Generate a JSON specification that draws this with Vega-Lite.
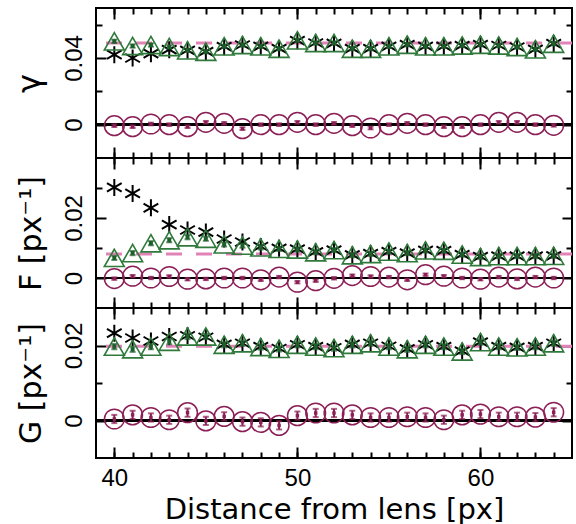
{
"$schema": "https://vega.github.io/schema/vega-lite/v6.json",
"padding": {"left": 12, "top": 6, "right": 0, "bottom": 0},
"spacing": 0,
"bounds": "flush",
"data": {"values": [
{"p":"g","x":40,"s":0.0420,"t":0.0500,"c":-0.0006,"te":0.001,"ce":0.0008,"tr":0.049},
{"p":"g","x":41,"s":0.0400,"t":0.0472,"c":-0.0012,"te":0.001,"ce":0.0008,"tr":0.049},
{"p":"g","x":42,"s":0.0426,"t":0.0478,"c":0.0004,"te":0.001,"ce":0.0008,"tr":0.049},
{"p":"g","x":43,"s":0.0450,"t":0.0466,"c":0.0,"te":0.001,"ce":0.0008,"tr":0.049},
{"p":"g","x":44,"s":0.0446,"t":0.0446,"c":-0.0012,"te":0.001,"ce":0.0008,"tr":0.049},
{"p":"g","x":45,"s":0.0438,"t":0.0438,"c":0.0014,"te":0.001,"ce":0.0008,"tr":0.049},
{"p":"g","x":46,"s":0.0468,"t":0.0470,"c":0.0008,"te":0.001,"ce":0.0008,"tr":0.049},
{"p":"g","x":47,"s":0.0478,"t":0.0478,"c":-0.0024,"te":0.001,"ce":0.0008,"tr":0.049},
{"p":"g","x":48,"s":0.0470,"t":0.0470,"c":0.0,"te":0.001,"ce":0.0008,"tr":0.049},
{"p":"g","x":49,"s":0.0456,"t":0.0456,"c":0.0,"te":0.001,"ce":0.0008,"tr":0.049},
{"p":"g","x":50,"s":0.0504,"t":0.0506,"c":0.0014,"te":0.001,"ce":0.0008,"tr":0.049},
{"p":"g","x":51,"s":0.0490,"t":0.0490,"c":0.0,"te":0.001,"ce":0.0008,"tr":0.049},
{"p":"g","x":52,"s":0.0488,"t":0.0490,"c":0.0008,"te":0.001,"ce":0.0008,"tr":0.049},
{"p":"g","x":53,"s":0.0456,"t":0.0456,"c":-0.0006,"te":0.001,"ce":0.0008,"tr":0.049},
{"p":"g","x":54,"s":0.0456,"t":0.0456,"c":-0.0020,"te":0.001,"ce":0.0008,"tr":0.049},
{"p":"g","x":55,"s":0.0470,"t":0.0470,"c":0.0,"te":0.001,"ce":0.0008,"tr":0.049},
{"p":"g","x":56,"s":0.0480,"t":0.0480,"c":0.0008,"te":0.001,"ce":0.0008,"tr":0.049},
{"p":"g","x":57,"s":0.0470,"t":0.0470,"c":0.0,"te":0.001,"ce":0.0008,"tr":0.049},
{"p":"g","x":58,"s":0.0470,"t":0.0470,"c":-0.0012,"te":0.001,"ce":0.0008,"tr":0.049},
{"p":"g","x":59,"s":0.0474,"t":0.0475,"c":-0.0012,"te":0.001,"ce":0.0008,"tr":0.049},
{"p":"g","x":60,"s":0.0480,"t":0.0480,"c":0.0,"te":0.001,"ce":0.0008,"tr":0.049},
{"p":"g","x":61,"s":0.0475,"t":0.0475,"c":0.0014,"te":0.001,"ce":0.0008,"tr":0.049},
{"p":"g","x":62,"s":0.0466,"t":0.0466,"c":0.0014,"te":0.001,"ce":0.0008,"tr":0.049},
{"p":"g","x":63,"s":0.0452,"t":0.0452,"c":0.0,"te":0.001,"ce":0.0008,"tr":0.049},
{"p":"g","x":64,"s":0.0486,"t":0.0486,"c":-0.0004,"te":0.001,"ce":0.0008,"tr":0.049},
{"p":"F","x":40,"s":0.0302,"t":0.0067,"c":-0.0002,"te":0.0007,"ce":0.0004,"tr":0.008},
{"p":"F","x":41,"s":0.0282,"t":0.0083,"c":0.0006,"te":0.0007,"ce":0.0004,"tr":0.008},
{"p":"F","x":42,"s":0.0234,"t":0.0116,"c":0.0,"te":0.0007,"ce":0.0004,"tr":0.008},
{"p":"F","x":43,"s":0.0178,"t":0.0126,"c":0.0005,"te":0.0007,"ce":0.0004,"tr":0.008},
{"p":"F","x":44,"s":0.0160,"t":0.0136,"c":-0.0004,"te":0.0007,"ce":0.0004,"tr":0.008},
{"p":"F","x":45,"s":0.0153,"t":0.0131,"c":-0.0003,"te":0.0007,"ce":0.0004,"tr":0.008},
{"p":"F","x":46,"s":0.0130,"t":0.0112,"c":0.0,"te":0.0007,"ce":0.0004,"tr":0.008},
{"p":"F","x":47,"s":0.0120,"t":0.0108,"c":0.0,"te":0.0007,"ce":0.0004,"tr":0.008},
{"p":"F","x":48,"s":0.0105,"t":0.0102,"c":-0.0006,"te":0.0007,"ce":0.0004,"tr":0.008},
{"p":"F","x":49,"s":0.0099,"t":0.0097,"c":0.0003,"te":0.0007,"ce":0.0004,"tr":0.008},
{"p":"F","x":50,"s":0.0096,"t":0.0095,"c":-0.0014,"te":0.0007,"ce":0.0004,"tr":0.008},
{"p":"F","x":51,"s":0.0087,"t":0.0086,"c":-0.0009,"te":0.0007,"ce":0.0004,"tr":0.008},
{"p":"F","x":52,"s":0.0093,"t":0.0093,"c":-0.0001,"te":0.0007,"ce":0.0004,"tr":0.008},
{"p":"F","x":53,"s":0.0077,"t":0.0076,"c":0.0008,"te":0.0007,"ce":0.0004,"tr":0.008},
{"p":"F","x":54,"s":0.0081,"t":0.0080,"c":0.0005,"te":0.0007,"ce":0.0004,"tr":0.008},
{"p":"F","x":55,"s":0.0088,"t":0.0088,"c":0.0003,"te":0.0007,"ce":0.0004,"tr":0.008},
{"p":"F","x":56,"s":0.0083,"t":0.0083,"c":-0.0006,"te":0.0007,"ce":0.0004,"tr":0.008},
{"p":"F","x":57,"s":0.0092,"t":0.0092,"c":0.0011,"te":0.0007,"ce":0.0004,"tr":0.008},
{"p":"F","x":58,"s":0.0091,"t":0.0091,"c":0.0006,"te":0.0007,"ce":0.0004,"tr":0.008},
{"p":"F","x":59,"s":0.0078,"t":0.0078,"c":0.0,"te":0.0007,"ce":0.0004,"tr":0.008},
{"p":"F","x":60,"s":0.0071,"t":0.0070,"c":-0.0004,"te":0.0007,"ce":0.0004,"tr":0.008},
{"p":"F","x":61,"s":0.0073,"t":0.0073,"c":0.0003,"te":0.0007,"ce":0.0004,"tr":0.008},
{"p":"F","x":62,"s":0.0073,"t":0.0073,"c":-0.0003,"te":0.0007,"ce":0.0004,"tr":0.008},
{"p":"F","x":63,"s":0.0073,"t":0.0073,"c":0.0003,"te":0.0007,"ce":0.0004,"tr":0.008},
{"p":"F","x":64,"s":0.0074,"t":0.0074,"c":0.0,"te":0.0007,"ce":0.0004,"tr":0.008},
{"p":"G","x":40,"s":0.0233,"t":0.0197,"c":0.0004,"te":0.0007,"ce":0.0011,"tr":0.0198},
{"p":"G","x":41,"s":0.0220,"t":0.0190,"c":0.0015,"te":0.0007,"ce":0.0011,"tr":0.0198},
{"p":"G","x":42,"s":0.0212,"t":0.0197,"c":0.0008,"te":0.0007,"ce":0.0011,"tr":0.0198},
{"p":"G","x":43,"s":0.0224,"t":0.0210,"c":0.0002,"te":0.0007,"ce":0.0011,"tr":0.0198},
{"p":"G","x":44,"s":0.0226,"t":0.0224,"c":0.0021,"te":0.0007,"ce":0.0011,"tr":0.0198},
{"p":"G","x":45,"s":0.0222,"t":0.0224,"c":-0.0001,"te":0.0007,"ce":0.0011,"tr":0.0198},
{"p":"G","x":46,"s":0.0203,"t":0.0202,"c":0.0011,"te":0.0007,"ce":0.0011,"tr":0.0198},
{"p":"G","x":47,"s":0.0206,"t":0.0206,"c":-0.0003,"te":0.0007,"ce":0.0011,"tr":0.0198},
{"p":"G","x":48,"s":0.0197,"t":0.0196,"c":-0.0005,"te":0.0007,"ce":0.0011,"tr":0.0198},
{"p":"G","x":49,"s":0.0192,"t":0.0191,"c":-0.0013,"te":0.0007,"ce":0.0011,"tr":0.0198},
{"p":"G","x":50,"s":0.0202,"t":0.0202,"c":0.0013,"te":0.0007,"ce":0.0011,"tr":0.0198},
{"p":"G","x":51,"s":0.0197,"t":0.0197,"c":0.0020,"te":0.0007,"ce":0.0011,"tr":0.0198},
{"p":"G","x":52,"s":0.0194,"t":0.0193,"c":0.0020,"te":0.0007,"ce":0.0011,"tr":0.0198},
{"p":"G","x":53,"s":0.0203,"t":0.0202,"c":0.0015,"te":0.0007,"ce":0.0011,"tr":0.0198},
{"p":"G","x":54,"s":0.0206,"t":0.0206,"c":0.0008,"te":0.0007,"ce":0.0011,"tr":0.0198},
{"p":"G","x":55,"s":0.0198,"t":0.0197,"c":0.0008,"te":0.0007,"ce":0.0011,"tr":0.0198},
{"p":"G","x":56,"s":0.0191,"t":0.0190,"c":0.0010,"te":0.0007,"ce":0.0011,"tr":0.0198},
{"p":"G","x":57,"s":0.0202,"t":0.0202,"c":0.0008,"te":0.0007,"ce":0.0011,"tr":0.0198},
{"p":"G","x":58,"s":0.0197,"t":0.0197,"c":0.0002,"te":0.0007,"ce":0.0011,"tr":0.0198},
{"p":"G","x":59,"s":0.0185,"t":0.0184,"c":0.0015,"te":0.0007,"ce":0.0011,"tr":0.0198},
{"p":"G","x":60,"s":0.0209,"t":0.0209,"c":0.0017,"te":0.0007,"ce":0.0011,"tr":0.0198},
{"p":"G","x":61,"s":0.0197,"t":0.0197,"c":0.0010,"te":0.0007,"ce":0.0011,"tr":0.0198},
{"p":"G","x":62,"s":0.0195,"t":0.0195,"c":0.0010,"te":0.0007,"ce":0.0011,"tr":0.0198},
{"p":"G","x":63,"s":0.0197,"t":0.0197,"c":0.0009,"te":0.0007,"ce":0.0011,"tr":0.0198},
{"p":"G","x":64,"s":0.0206,"t":0.0206,"c":0.0022,"te":0.0007,"ce":0.0011,"tr":0.0198}
]},
"vconcat": [
{
 "width": 476, "height": 150,
 "transform": [{"filter": "datum.p === 'g'"}],
 "layer": [
  {"mark": {"type": "rule", "color": "#e283b8", "strokeWidth": 3, "strokeDash": [16, 14]},
   "encoding": {"y": {"aggregate": "mean", "field": "tr", "type": "quantitative", "scale": {"domain": [-0.02, 0.07], "nice": false, "zero": false}, "axis": null}}},
  {"mark": {"type": "rule", "color": "black", "strokeWidth": 2},
   "encoding": {"y": {"datum": 0, "type": "quantitative", "axis": null}}},
  {"mark": {"type": "point", "shape": "circle", "size": 390, "filled": false, "color": "#8b1f56", "strokeWidth": 1.5, "opacity": 1},
   "encoding": {
    "x": {"field": "x", "type": "quantitative", "scale": {"domain": [39, 65], "nice": false, "zero": false}, "axis": {"orient": "bottom", "values": [40,41,42,43,44,45,46,47,48,49,50,51,52,53,54,55,56,57,58,59,60,61,62,63,64], "tickSize": -6, "labels": false, "title": null}},
    "y": {"field": "c", "type": "quantitative", "scale": {"domain": [-0.02, 0.07], "nice": false, "zero": false}, "axis": {"orient": "left", "values": [0, 0.04], "format": "~g", "ticks": false, "labelAngle": -90, "labelPadding": 10, "labelFontSize": 24, "title": "γ", "titleFontSize": 32, "titlePadding": 16}}}},
  {"mark": {"type": "errorbar", "ticks": {"size": 6}, "thickness": 2, "color": "#8b1f56"},
   "encoding": {"x": {"field": "x", "type": "quantitative", "axis": null}, "y": {"field": "c", "type": "quantitative", "axis": null}, "yError": {"field": "ce"}}},
  {"mark": {"type": "point", "shape": "square", "size": 12, "filled": true, "color": "#8b1f56", "opacity": 1},
   "encoding": {"x": {"field": "x", "type": "quantitative", "axis": null}, "y": {"field": "c", "type": "quantitative", "axis": null}}},
  {"mark": {"type": "point", "shape": "M0,-1L0,1M-0.866,-0.5L0.866,0.5M-0.866,0.5L0.866,-0.5", "size": 289, "filled": false, "color": "black", "strokeWidth": 2, "opacity": 1},
   "encoding": {
    "x": {"field": "x", "type": "quantitative", "axis": {"orient": "bottom", "values": [40, 50, 60], "tickSize": -11, "labels": false, "title": null}},
    "y": {"field": "s", "type": "quantitative", "axis": {"orient": "left", "values": [0, 0.04], "tickSize": -10, "labels": false, "title": null}}}},
  {"mark": {"type": "point", "shape": "triangle-up", "size": 400, "filled": false, "color": "#2f7a3b", "strokeWidth": 1.6, "opacity": 1},
   "encoding": {
    "x": {"field": "x", "type": "quantitative", "axis": {"orient": "top", "values": [40,41,42,43,44,45,46,47,48,49,50,51,52,53,54,55,56,57,58,59,60,61,62,63,64], "tickSize": -6, "labels": false, "title": null}},
    "y": {"field": "t", "type": "quantitative", "axis": {"orient": "right", "values": [0, 0.04], "tickSize": -10, "labels": false, "title": null}}}},
  {"mark": {"type": "errorbar", "ticks": {"size": 6}, "thickness": 2, "color": "#1d5e2b"},
   "encoding": {"x": {"field": "x", "type": "quantitative", "axis": null}, "y": {"field": "t", "type": "quantitative", "axis": null}, "yError": {"field": "te"}}},
  {"mark": {"type": "point", "shape": "square", "size": 16, "filled": true, "color": "#1d5e2b", "opacity": 1},
   "encoding": {
    "x": {"field": "x", "type": "quantitative", "axis": {"orient": "top", "values": [40, 50, 60], "tickSize": -11, "labels": false, "title": null}},
    "y": {"field": "t", "type": "quantitative", "axis": {"orient": "right", "values": [0.02, 0.06], "tickSize": -6, "labels": false, "title": null}}}},
  {"mark": {"type": "point", "opacity": 0},
   "encoding": {
    "x": {"field": "x", "type": "quantitative", "axis": null},
    "y": {"field": "t", "type": "quantitative", "axis": {"orient": "left", "values": [0.02, 0.06], "tickSize": -6, "labels": false, "title": null}}}}
 ],
 "resolve": {"axis": {"x": "independent", "y": "independent"}}
},
{
 "width": 476, "height": 150,
 "transform": [{"filter": "datum.p === 'F'"}],
 "layer": [
  {"mark": {"type": "rule", "color": "#e283b8", "strokeWidth": 3, "strokeDash": [16, 14]},
   "encoding": {"y": {"aggregate": "mean", "field": "tr", "type": "quantitative", "scale": {"domain": [-0.01, 0.04], "nice": false, "zero": false}, "axis": null}}},
  {"mark": {"type": "rule", "color": "black", "strokeWidth": 2},
   "encoding": {"y": {"datum": 0, "type": "quantitative", "axis": null}}},
  {"mark": {"type": "point", "shape": "circle", "size": 390, "filled": false, "color": "#8b1f56", "strokeWidth": 1.5, "opacity": 1},
   "encoding": {
    "x": {"field": "x", "type": "quantitative", "scale": {"domain": [39, 65], "nice": false, "zero": false}, "axis": {"orient": "bottom", "values": [40,41,42,43,44,45,46,47,48,49,50,51,52,53,54,55,56,57,58,59,60,61,62,63,64], "tickSize": -6, "labels": false, "title": null}},
    "y": {"field": "c", "type": "quantitative", "scale": {"domain": [-0.01, 0.04], "nice": false, "zero": false}, "axis": {"orient": "left", "values": [0, 0.02], "format": "~g", "ticks": false, "labelAngle": -90, "labelPadding": 10, "labelFontSize": 24, "title": "F [px⁻¹]", "titleFontSize": 30, "titlePadding": 16}}}},
  {"mark": {"type": "errorbar", "ticks": {"size": 6}, "thickness": 2, "color": "#8b1f56"},
   "encoding": {"x": {"field": "x", "type": "quantitative", "axis": null}, "y": {"field": "c", "type": "quantitative", "axis": null}, "yError": {"field": "ce"}}},
  {"mark": {"type": "point", "shape": "square", "size": 12, "filled": true, "color": "#8b1f56", "opacity": 1},
   "encoding": {"x": {"field": "x", "type": "quantitative", "axis": null}, "y": {"field": "c", "type": "quantitative", "axis": null}}},
  {"mark": {"type": "point", "shape": "M0,-1L0,1M-0.866,-0.5L0.866,0.5M-0.866,0.5L0.866,-0.5", "size": 289, "filled": false, "color": "black", "strokeWidth": 2, "opacity": 1},
   "encoding": {
    "x": {"field": "x", "type": "quantitative", "axis": {"orient": "bottom", "values": [40, 50, 60], "tickSize": -11, "labels": false, "title": null}},
    "y": {"field": "s", "type": "quantitative", "axis": {"orient": "left", "values": [0, 0.02], "tickSize": -10, "labels": false, "title": null}}}},
  {"mark": {"type": "point", "shape": "triangle-up", "size": 400, "filled": false, "color": "#2f7a3b", "strokeWidth": 1.6, "opacity": 1},
   "encoding": {
    "x": {"field": "x", "type": "quantitative", "axis": {"orient": "top", "values": [40,41,42,43,44,45,46,47,48,49,50,51,52,53,54,55,56,57,58,59,60,61,62,63,64], "tickSize": -6, "labels": false, "title": null}},
    "y": {"field": "t", "type": "quantitative", "axis": {"orient": "right", "values": [0, 0.02], "tickSize": -10, "labels": false, "title": null}}}},
  {"mark": {"type": "errorbar", "ticks": {"size": 6}, "thickness": 2, "color": "#1d5e2b"},
   "encoding": {"x": {"field": "x", "type": "quantitative", "axis": null}, "y": {"field": "t", "type": "quantitative", "axis": null}, "yError": {"field": "te"}}},
  {"mark": {"type": "point", "shape": "square", "size": 16, "filled": true, "color": "#1d5e2b", "opacity": 1},
   "encoding": {
    "x": {"field": "x", "type": "quantitative", "axis": {"orient": "top", "values": [40, 50, 60], "tickSize": -11, "labels": false, "title": null}},
    "y": {"field": "t", "type": "quantitative", "axis": {"orient": "right", "values": [0.01, 0.03], "tickSize": -6, "labels": false, "title": null}}}},
  {"mark": {"type": "point", "opacity": 0},
   "encoding": {
    "x": {"field": "x", "type": "quantitative", "axis": null},
    "y": {"field": "t", "type": "quantitative", "axis": {"orient": "left", "values": [0.01, 0.03], "tickSize": -6, "labels": false, "title": null}}}}
 ],
 "resolve": {"axis": {"x": "independent", "y": "independent"}}
},
{
 "width": 476, "height": 150,
 "transform": [{"filter": "datum.p === 'G'"}],
 "layer": [
  {"mark": {"type": "rule", "color": "#e283b8", "strokeWidth": 3, "strokeDash": [16, 14]},
   "encoding": {"y": {"aggregate": "mean", "field": "tr", "type": "quantitative", "scale": {"domain": [-0.01, 0.03], "nice": false, "zero": false}, "axis": null}}},
  {"mark": {"type": "rule", "color": "black", "strokeWidth": 2},
   "encoding": {"y": {"datum": 0, "type": "quantitative", "axis": null}}},
  {"mark": {"type": "point", "shape": "circle", "size": 390, "filled": false, "color": "#8b1f56", "strokeWidth": 1.5, "opacity": 1},
   "encoding": {
    "x": {"field": "x", "type": "quantitative", "scale": {"domain": [39, 65], "nice": false, "zero": false}, "axis": {"orient": "bottom", "values": [40,41,42,43,44,45,46,47,48,49,50,51,52,53,54,55,56,57,58,59,60,61,62,63,64], "tickSize": -6, "labels": false, "title": null}},
    "y": {"field": "c", "type": "quantitative", "scale": {"domain": [-0.01, 0.03], "nice": false, "zero": false}, "axis": {"orient": "left", "values": [0, 0.02], "format": "~g", "ticks": false, "labelAngle": -90, "labelPadding": 10, "labelFontSize": 24, "title": "G [px⁻¹]", "titleFontSize": 30, "titlePadding": 16}}}},
  {"mark": {"type": "errorbar", "ticks": {"size": 6}, "thickness": 2, "color": "#8b1f56"},
   "encoding": {"x": {"field": "x", "type": "quantitative", "axis": null}, "y": {"field": "c", "type": "quantitative", "axis": null}, "yError": {"field": "ce"}}},
  {"mark": {"type": "point", "shape": "square", "size": 12, "filled": true, "color": "#8b1f56", "opacity": 1},
   "encoding": {"x": {"field": "x", "type": "quantitative", "axis": null}, "y": {"field": "c", "type": "quantitative", "axis": null}}},
  {"mark": {"type": "point", "shape": "M0,-1L0,1M-0.866,-0.5L0.866,0.5M-0.866,0.5L0.866,-0.5", "size": 289, "filled": false, "color": "black", "strokeWidth": 2, "opacity": 1},
   "encoding": {
    "x": {"field": "x", "type": "quantitative", "axis": {"orient": "bottom", "values": [40, 50, 60], "tickSize": -11, "labels": true, "labelPadding": 19, "labelFontSize": 24, "title": "Distance from lens [px]", "titleFontSize": 29, "titlePadding": 5}},
    "y": {"field": "s", "type": "quantitative", "axis": {"orient": "left", "values": [0, 0.02], "tickSize": -10, "labels": false, "title": null}}}},
  {"mark": {"type": "point", "shape": "triangle-up", "size": 400, "filled": false, "color": "#2f7a3b", "strokeWidth": 1.6, "opacity": 1},
   "encoding": {
    "x": {"field": "x", "type": "quantitative", "axis": {"orient": "top", "values": [40,41,42,43,44,45,46,47,48,49,50,51,52,53,54,55,56,57,58,59,60,61,62,63,64], "tickSize": -6, "labels": false, "title": null}},
    "y": {"field": "t", "type": "quantitative", "axis": {"orient": "right", "values": [0, 0.02], "tickSize": -10, "labels": false, "title": null}}}},
  {"mark": {"type": "errorbar", "ticks": {"size": 6}, "thickness": 2, "color": "#1d5e2b"},
   "encoding": {"x": {"field": "x", "type": "quantitative", "axis": null}, "y": {"field": "t", "type": "quantitative", "axis": null}, "yError": {"field": "te"}}},
  {"mark": {"type": "point", "shape": "square", "size": 16, "filled": true, "color": "#1d5e2b", "opacity": 1},
   "encoding": {
    "x": {"field": "x", "type": "quantitative", "axis": {"orient": "top", "values": [40, 50, 60], "tickSize": -11, "labels": false, "title": null}},
    "y": {"field": "t", "type": "quantitative", "axis": {"orient": "right", "values": [0.01], "tickSize": -6, "labels": false, "title": null}}}},
  {"mark": {"type": "point", "opacity": 0},
   "encoding": {
    "x": {"field": "x", "type": "quantitative", "axis": null},
    "y": {"field": "t", "type": "quantitative", "axis": {"orient": "left", "values": [0.01], "tickSize": -6, "labels": false, "title": null}}}}
 ],
 "resolve": {"axis": {"x": "independent", "y": "independent"}}
}
],
"config": {
 "view": {"stroke": "black", "strokeWidth": 2},
 "axis": {"domain": false, "grid": false, "tickWidth": 2, "tickColor": "black", "labelColor": "black", "titleColor": "black", "titleFontWeight": "normal", "labelFont": "Liberation Sans", "titleFont": "DejaVu Sans"}
}
}
